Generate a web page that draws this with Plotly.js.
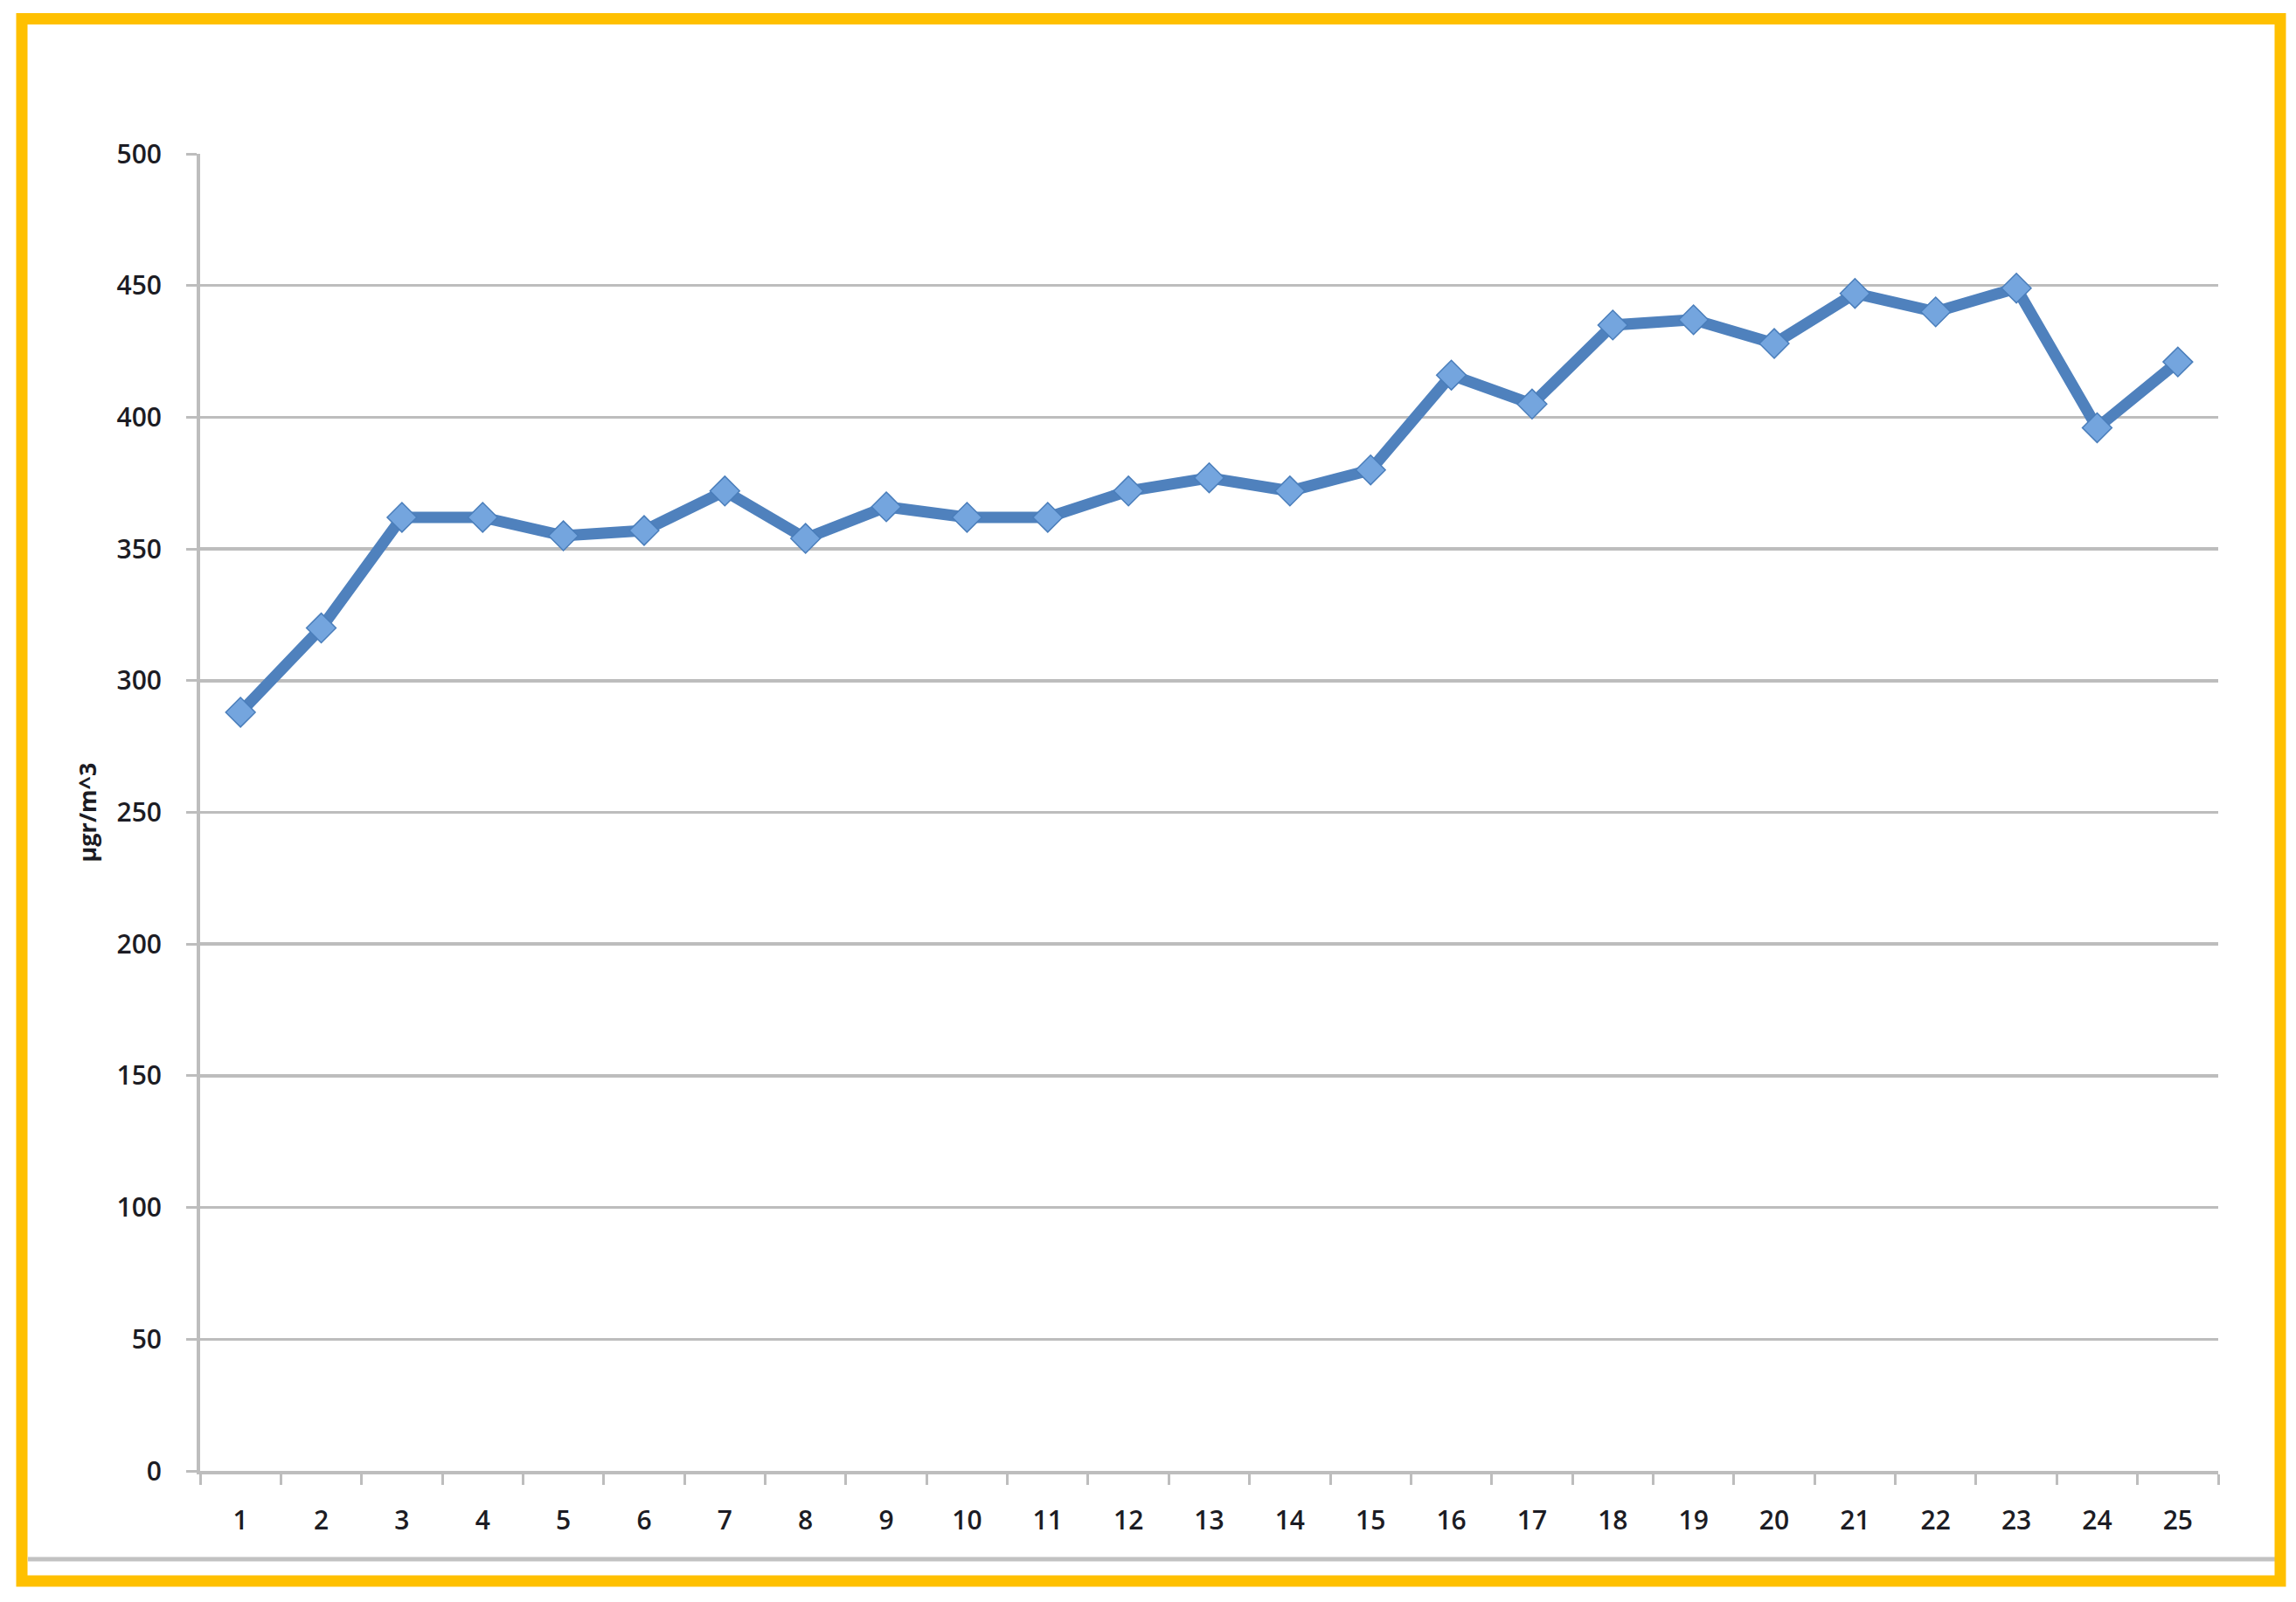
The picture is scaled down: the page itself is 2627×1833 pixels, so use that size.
<!DOCTYPE html>
<html>
<head>
<meta charset="utf-8">
<script src="https://cdn.plot.ly/plotly-3.0.1.min.js"></script>
<style>
html,body{margin:0;padding:0;background:#fff;}
#chart{width:2627px;height:1833px;}
</style>
</head>
<body>
<div id="chart"></div>
<script>
// ---- data ----
const categories = ['1','2','3','4','5','6','7','8','9','10','11','12','13','14','15','16','17','18','19','20','21','22','23','24','25'];
const values = [288, 320, 362, 362, 355, 357, 372, 354, 366, 362, 362, 372, 377, 372, 380, 416, 405, 435, 437, 428, 447, 440, 449, 396, 421];
const yTickValues = [0, 50, 100, 150, 200, 250, 300, 350, 400, 450, 500];
const yTitle = 'µgr/m^3';

// ---- layout geometry ----
const W = 2627, H = 1833;
const M = {l: 229, r: 89, t: 176, b: 150};
const PW = W - M.l - M.r, PH = H - M.t - M.b;
const px = x => (x - M.l) / PW;
const py = y => 1 - (y - M.t) / PH;

const gold = '#FFC000';
const grid = '#bdbdbd';
const textFont = {family: 'Open Sans, Liberation Sans, sans-serif', size: 30, color: '#1c1c24', weight: 600};

const trace = {
  type: 'scatter',
  mode: 'lines+markers',
  x: categories,
  y: values,
  line: {color: '#4F81BD', width: 13},
  marker: {symbol: 'diamond', size: 26, color: '#74A5DE', line: {color: '#4A7EBB', width: 1.5}},
  hoverinfo: 'x+y'
};

const layout = {
  width: W, height: H,
  margin: M,
  paper_bgcolor: '#ffffff',
  plot_bgcolor: '#ffffff',
  showlegend: false,
  font: textFont,
  xaxis: {
    type: 'category',
    range: [-0.5, 24.5],
    tickson: 'boundaries',
    ticks: 'outside', ticklen: 12, tickwidth: 3, tickcolor: grid,
    showgrid: false,
    showline: true, linecolor: grid, linewidth: 4,
    tickfont: textFont,
    ticklabelstandoff: 27,
    zeroline: false, fixedrange: true
  },
  yaxis: {
    range: [0, 500],
    tickvals: yTickValues,
    ticks: 'outside', ticklen: 12, tickwidth: 3, tickcolor: grid,
    showgrid: true, gridcolor: grid, gridwidth: 3.5,
    showline: true, linecolor: grid, linewidth: 4,
    zeroline: false,
    tickfont: textFont,
    ticklabelstandoff: 22,
    title: {text: yTitle, font: {family: 'Open Sans, Liberation Sans, sans-serif', size: 27, color: '#1c1c24', weight: 700}, standoff: 16},
    fixedrange: true
  },
  shapes: [
    // inner gray frame line near bottom
    {type: 'line', xref: 'paper', yref: 'paper', x0: px(32), x1: px(2604), y0: py(1784), y1: py(1784),
     line: {color: '#c2c2c2', width: 5}},
    // gold frame
    {type: 'rect', xref: 'paper', yref: 'paper', x0: px(25), x1: px(2609), y0: py(21.5), y1: py(1809),
     line: {color: gold, width: 13}, fillcolor: 'rgba(0,0,0,0)'}
  ]
};

Plotly.newPlot('chart', [trace], layout, {displayModeBar: false, staticPlot: true});
</script>
</body>
</html>
